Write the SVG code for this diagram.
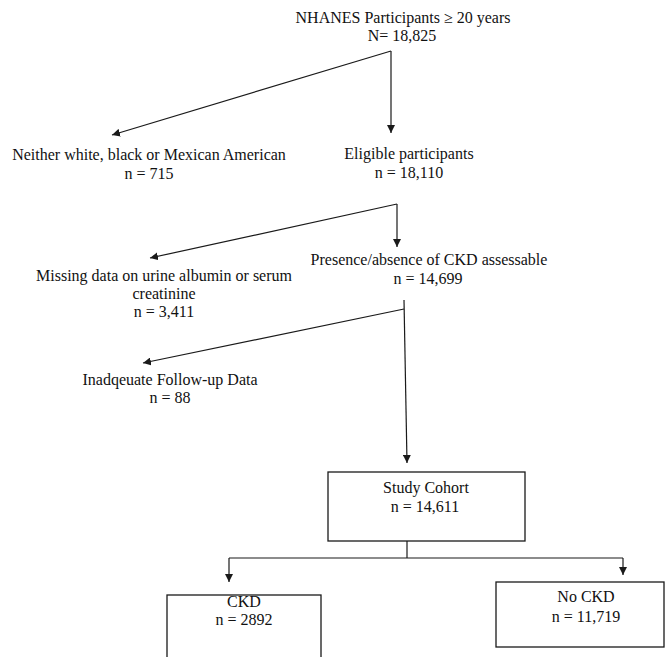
<svg xmlns="http://www.w3.org/2000/svg" width="665" height="657" viewBox="0 0 665 657">
<style>
text{font-family:"Liberation Serif","Times New Roman",serif;font-size:16px;fill:#111;text-anchor:middle}
.ln{stroke:#1a1a1a;stroke-width:1.2;fill:none}
.box{stroke:#1a1a1a;stroke-width:1.3;fill:#fff}
</style>
<defs>
<marker id="ah" viewBox="0 0 10 10" refX="10" refY="5" markerWidth="8" markerHeight="8" markerUnits="userSpaceOnUse" orient="auto">
<path d="M0,0 L10,5 L0,10 z" fill="#1a1a1a"/>
</marker>
</defs>
<rect width="665" height="657" fill="#fff"/>
<g id="connectors">
<line class="ln" x1="391" y1="51" x2="391" y2="133" marker-end="url(#ah)"/>
<line class="ln" x1="391" y1="51" x2="112" y2="135" marker-end="url(#ah)"/>
<line class="ln" x1="397" y1="204" x2="397" y2="247" marker-end="url(#ah)"/>
<line class="ln" x1="397" y1="204" x2="150" y2="258" marker-end="url(#ah)"/>
<line class="ln" x1="404" y1="300" x2="407" y2="463" marker-end="url(#ah)"/>
<line class="ln" x1="404" y1="309" x2="143" y2="363" marker-end="url(#ah)"/>
<line class="ln" x1="407" y1="541" x2="407" y2="558"/>
<line class="ln" x1="229" y1="558" x2="623" y2="558"/>
<line class="ln" x1="229" y1="558" x2="229" y2="582" marker-end="url(#ah)"/>
<line class="ln" x1="623" y1="558" x2="623" y2="575" marker-end="url(#ah)"/>
</g>
<g id="n-nhanes">
<text x="403" y="23">NHANES Participants ≥ 20 years</text>
<text x="402" y="41">N= 18,825</text>
</g>
<g id="n-neither">
<text x="149" y="160">Neither white, black or Mexican American</text>
<text x="149" y="179">n = 715</text>
</g>
<g id="n-eligible">
<text x="409" y="159">Eligible participants</text>
<text x="409" y="178">n = 18,110</text>
</g>
<g id="n-missing">
<text x="164" y="281">Missing data on urine albumin or serum</text>
<text x="164" y="299">creatinine</text>
<text x="164" y="317">n = 3,411</text>
</g>
<g id="n-presence">
<text x="429" y="265">Presence/absence of CKD assessable</text>
<text x="428" y="284">n = 14,699</text>
</g>
<g id="n-inadequate">
<text x="170" y="385">Inadqeuate Follow-up Data</text>
<text x="170" y="403">n = 88</text>
</g>
<g id="n-cohort">
<rect class="box" x="328" y="472" width="197" height="69"/>
<text x="426" y="493">Study Cohort</text>
<text x="425" y="512">n = 14,611</text>
</g>
<g id="n-ckd">
<rect class="box" x="167" y="595" width="154" height="70"/>
<text x="244" y="607">CKD</text>
<text x="244" y="625">n = 2892</text>
</g>
<g id="n-nockd">
<rect class="box" x="496" y="582" width="168" height="65"/>
<text x="586" y="602">No CKD</text>
<text x="586" y="622">n = 11,719</text>
</g>
</svg>
